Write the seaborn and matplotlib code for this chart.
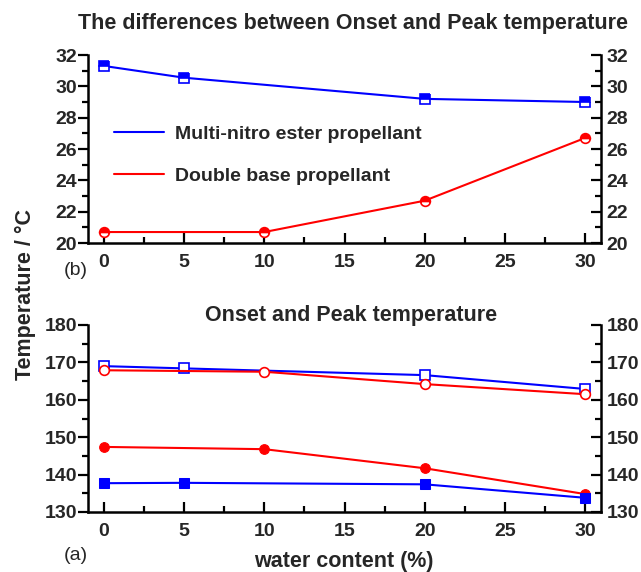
import numpy as np
import pandas as pd
import seaborn as sns
import matplotlib
matplotlib.use("Agg")
import matplotlib.pyplot as plt
from matplotlib.ticker import MultipleLocator

# ---- data ----
water_mn = [0, 5, 20, 30]          # multi-nitro ester propellant
water_db = [0, 10, 20, 30]         # double base propellant

diff_mn = [31.3, 30.55, 29.2, 29.0]
diff_db = [20.7, 20.7, 22.7, 26.7]

peak_mn = [169.0, 168.4, 166.6, 162.9]
onset_mn = [137.7, 137.8, 137.4, 133.8]
peak_db = [167.9, 167.5, 164.2, 161.5]
onset_db = [147.4, 146.8, 141.7, 134.8]

xticks = [0, 5, 10, 15, 20, 25, 30]
top_yticks = [20, 22, 24, 26, 28, 30, 32]
bot_yticks = [130, 140, 150, 160, 170, 180]

sns.set_theme(style="white")
plt.rcParams['font.family'] = ['Liberation Sans', 'DejaVu Sans']

BLUE = (0, 0, 1)
RED = (1, 0, 0)
TICK_FS = 14

fig = plt.figure(figsize=(6.41, 5.72), dpi=100)
ax_top = fig.add_axes([88/641, 1-243/572, 513/641, 188/572])
ax_bot = fig.add_axes([88/641, 1-512/572, 513/641, 187/572])


def style_axes(ax, ylim, yticks, ymin):
    ax.set_xlim(-1, 31)
    ax.set_ylim(*ylim)
    ax.set_xticks(xticks)
    ax.set_yticks(yticks)
    ax.xaxis.set_minor_locator(MultipleLocator(2.5))
    ax.yaxis.set_minor_locator(MultipleLocator(ymin))
    for s in ['left', 'right', 'bottom']:
        ax.spines[s].set_visible(True)
        ax.spines[s].set_color('black')
        ax.spines[s].set_linewidth(1.8)
    ax.spines['top'].set_visible(False)
    ax.tick_params(axis='x', which='both', direction='in', bottom=True, top=False,
                   color='black', width=1.6, labelsize=TICK_FS, pad=8)
    ax.tick_params(axis='x', which='major', length=7)
    ax.tick_params(axis='x', which='minor', length=4)
    ax.tick_params(axis='y', which='both', direction='out', left=True, right=False,
                   color='black', width=1.6, labelsize=TICK_FS, pad=1)
    ax.tick_params(axis='y', which='major', length=7)
    ax.tick_params(axis='y', which='minor', length=4)
    for lab in ax.get_xticklabels() + ax.get_yticklabels():
        lab.set_fontweight('bold')
    ax.set_xlabel('')
    ax.set_ylabel('')
    # right axis
    ax2 = ax.twinx()
    ax2.set_ylim(*ylim)
    ax2.set_yticks(yticks)
    ax2.yaxis.set_minor_locator(MultipleLocator(ymin))
    for s in ax2.spines.values():
        s.set_visible(False)
    ax2.tick_params(axis='y', which='both', direction='in', right=True, left=False,
                    color='black', width=1.6, labelsize=TICK_FS, pad=4)
    ax2.tick_params(axis='y', which='major', length=7)
    ax2.tick_params(axis='y', which='minor', length=4)
    for lab in ax2.get_yticklabels():
        lab.set_fontweight('bold')
    ax2.grid(False)
    ax.grid(False)


lw = 1.5
ms = 7

# ---- top panel: differences ----
sns.lineplot(x=water_mn, y=diff_mn, ax=ax_top, color=BLUE, lw=lw,
             marker='s', markersize=ms, fillstyle='top', markerfacecoloralt='white',
             markeredgecolor=BLUE, markeredgewidth=1.2, label='Multi-nitro ester propellant')
sns.lineplot(x=water_db, y=diff_db, ax=ax_top, color=RED, lw=lw,
             marker='o', markersize=ms, fillstyle='top', markerfacecoloralt='white',
             markeredgecolor=RED, markeredgewidth=1.2, label='Double base propellant')

leg = ax_top.legend(loc='upper left', bbox_to_anchor=(0.035, 0.667), frameon=False,
                    handlelength=2.6, handletextpad=0.55, labelspacing=1.25,
                    borderaxespad=0.0,
                    prop={'weight': 'bold', 'size': 14})
for h in leg.legend_handles:
    h.set_marker('')
style_axes(ax_top, (20, 32), top_yticks, 1)

# ---- bottom panel: onset & peak ----
sns.lineplot(x=water_mn, y=peak_mn, ax=ax_bot, color=BLUE, lw=lw, marker='s',
             markersize=ms, markerfacecolor='white', markeredgecolor=BLUE,
             markeredgewidth=1.2)
sns.lineplot(x=water_db, y=peak_db, ax=ax_bot, color=RED, lw=lw, marker='o',
             markersize=ms, markerfacecolor='white', markeredgecolor=RED,
             markeredgewidth=1.2)
sns.lineplot(x=water_db, y=onset_db, ax=ax_bot, color=RED, lw=lw, marker='o',
             markersize=ms, markerfacecolor=RED, markeredgecolor=RED)
sns.lineplot(x=water_mn, y=onset_mn, ax=ax_bot, color=BLUE, lw=lw, marker='s',
             markersize=ms, markerfacecolor=BLUE, markeredgecolor=BLUE)
style_axes(ax_bot, (130, 180), bot_yticks, 5)

# ---- text ----
fig.text(353/641, 1-23/572, 'The differences between Onset and Peak temperature',
         ha='center', va='center', fontsize=15.5, fontweight='bold')
fig.text(351/641, 1-316/572, 'Onset and Peak temperature',
         ha='center', va='center', fontsize=15.5, fontweight='bold')
fig.text(25/641, 1-295/572, 'Temperature / °C', rotation=90,
         ha='center', va='center', fontsize=15.5, fontweight='bold')
fig.text(344/641, 1-561/572, 'water content (%)',
         ha='center', va='center', fontsize=15.5, fontweight='bold')
fig.text(76/641, 1-270/572, '(b)', ha='center', va='center', fontsize=14)
fig.text(76/641, 1-555/572, '(a)', ha='center', va='center', fontsize=14)

fig.savefig('out.png', dpi=100)
